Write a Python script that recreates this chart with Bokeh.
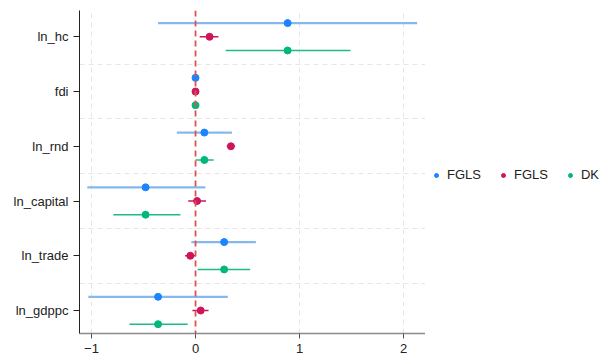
from bokeh.plotting import figure
from bokeh.layouts import row
from bokeh.models import FixedTicker, Legend, LegendItem, Span, ColumnDataSource
from bokeh.embed import file_html
from bokeh.resources import INLINE

variables = ["ln_gdppc", "ln_trade", "ln_capital", "ln_rnd", "fdi", "ln_hc"]

# FGLS (model 1, blue)
b1 = [-0.36, 0.275, -0.48, 0.085, 0.0, 0.885]
lo1 = [-1.03, -0.04, -1.04, -0.18, -0.005, -0.36]
hi1 = [0.31, 0.58, 0.095, 0.35, 0.005, 2.13]

# FGLS (model 2, red)
b2 = [0.05, -0.05, 0.015, 0.34, 0.0, 0.135]
lo2 = [-0.03, -0.10, -0.07, 0.30, -0.005, 0.04]
hi2 = [0.125, 0.0, 0.10, 0.38, 0.005, 0.22]

# DK (green)
b3 = [-0.36, 0.275, -0.48, 0.085, 0.0, 0.885]
lo3 = [-0.635, 0.02, -0.79, 0.0, -0.005, 0.29]
hi3 = [-0.075, 0.525, -0.145, 0.175, 0.005, 1.49]

labels = ["FGLS", "FGLS", "DK"]
xticks = [-1, 0, 1, 2]

FONT = "Liberation Sans"

p = figure(width=425, height=354, frame_width=346, frame_height=323,
           x_range=(-1.115, 2.21), y_range=(0.08, 5.98),
           output_backend="svg", toolbar_location=None,
           min_border_left=79, min_border_top=10, min_border_right=0, min_border_bottom=5)
p.outline_line_color = None
p.background_fill_color = "white"
p.border_fill_color = "white"

centers = [i + 0.5 for i in range(len(variables))]
offsets = [0.25, 0.0, -0.25]
colors = ["#1a85ff", "#d0145a", "#00b87a"]
ci_colors = ["#86b8ee", "#c8185a", "#1fbb85"]
ci_widths = [2.2, 1.6, 1.6]
series = [(b1, lo1, hi1), (b2, lo2, hi2), (b3, lo3, hi3)]

for (b, lo, hi), off, c, cc, w in zip(series, offsets, colors, ci_colors, ci_widths):
    ys = [y + off for y in centers]
    src = ColumnDataSource(dict(b=b, lo=lo, hi=hi, y=ys))
    p.segment(x0="lo", x1="hi", y0="y", y1="y", source=src, line_color=cc, line_width=w)
    p.scatter(x="b", y="y", source=src, size=7, fill_color=c, line_color=c)

p.add_layout(Span(location=0, dimension="height", line_color="#d9534f",
                  line_dash="6 4", line_width=1.8))

# axes
p.yaxis.ticker = FixedTicker(ticks=centers)
p.yaxis.major_label_overrides = {c: v for c, v in zip(centers, variables)}
p.yaxis.major_label_text_font = FONT
p.yaxis.major_label_text_font_size = "13px"
p.yaxis.major_label_text_color = "#222222"
p.yaxis.axis_line_color = "#222222"
p.yaxis.major_tick_line_color = "#222222"
p.yaxis.major_tick_out = 6
p.yaxis.major_tick_in = 0
p.yaxis.minor_tick_line_color = None

p.xaxis.ticker = FixedTicker(ticks=xticks)
p.xaxis.major_label_text_font = FONT
p.xaxis.major_label_text_font_size = "13px"
p.xaxis.major_label_text_color = "#222222"
p.xaxis.axis_line_color = "#8c8c8c"
p.xaxis.axis_line_width = 1.5
p.xaxis.major_tick_line_color = "#555555"
p.xaxis.major_tick_out = 5
p.xaxis.major_tick_in = 0
p.xaxis.minor_tick_line_color = None

p.xgrid.ticker = FixedTicker(ticks=[-1, 1, 2])
p.xgrid.grid_line_color = "#e6e6e6"
p.xgrid.grid_line_dash = "5 4"
p.ygrid.ticker = FixedTicker(ticks=[1, 2, 3, 4, 5])
p.ygrid.grid_line_color = "#e6e6e6"
p.ygrid.grid_line_dash = "5 4"

# legend in a companion figure to the right
lg = figure(width=174, height=354, x_range=(0, 1), y_range=(0, 1),
            output_backend="svg", toolbar_location=None,
            x_axis_location=None, y_axis_location=None,
            min_border_left=0, min_border_right=0, min_border_top=0, min_border_bottom=0)
lg.outline_line_color = None
lg.xgrid.visible = False
lg.ygrid.visible = False
dummies = [lg.scatter(x=[-10], y=[-10], size=6, fill_color=c, line_color=c) for c in colors]
legend = Legend(items=[LegendItem(label=l, renderers=[r]) for l, r in zip(labels, dummies)],
                orientation="horizontal", location=(6, 150),
                label_text_font=FONT, label_text_font_size="13px",
                label_text_color="#222222", glyph_width=10, glyph_height=14,
                label_standoff=6, spacing=17, padding=0, margin=0,
                border_line_color=None, background_fill_alpha=0)
lg.add_layout(legend, "center")

layout = row(p, lg, spacing=0)
open("out.html", "w").write(file_html(layout, INLINE))
